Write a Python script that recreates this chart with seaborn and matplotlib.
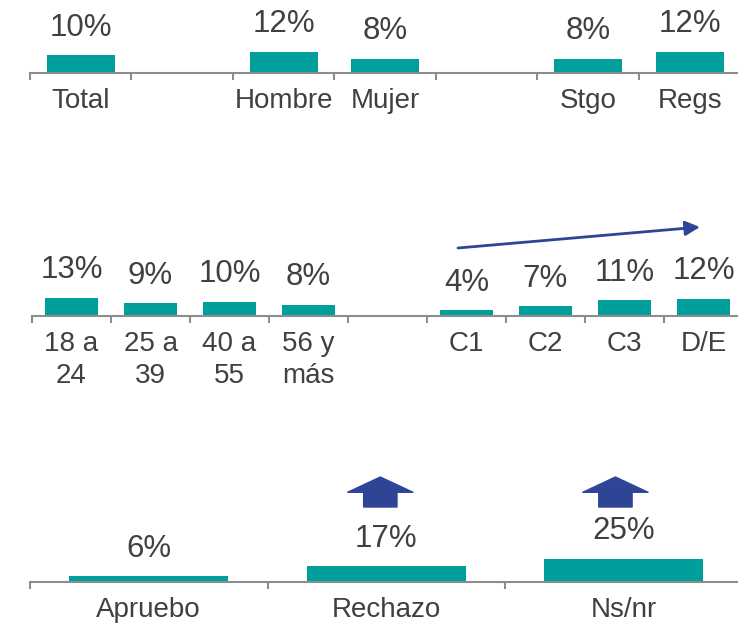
import matplotlib
matplotlib.use('Agg')
import matplotlib.pyplot as plt
import seaborn as sns
from matplotlib.ticker import FixedLocator

# datos de cada fila (slots vacíos como "_b")
orden_1 = ["Total", "_b1", "Hombre", "Mujer", "_b2", "Stgo", "Regs"]
cats_1 = ["Total", "Hombre", "Mujer", "Stgo", "Regs"]
vals_1 = [10, 12, 8, 8, 12]

orden_2 = ["18 a\n24", "25 a\n39", "40 a\n55", "56 y\nmás", "_b1", "C1", "C2", "C3", "D/E"]
cats_2 = ["18 a\n24", "25 a\n39", "40 a\n55", "56 y\nmás", "C1", "C2", "C3", "D/E"]
vals_2 = [13, 9, 10, 8, 4, 7, 11, 12]

orden_3 = ["Apruebo", "Rechazo", "Ns/nr"]
cats_3 = ["Apruebo", "Rechazo", "Ns/nr"]
vals_3 = [6, 17, 25]

VERDE = "#009F9B"
AZUL = "#2E4596"
GRIS_TXT = "#404040"
GRIS_EJE = "#8C8C8C"

sns.set_style("white")
plt.rcParams['font.family'] = ['Liberation Sans', 'DejaVu Sans']

W, H = 738, 623
fig = plt.figure(figsize=(W / 100, H / 100), dpi=100)


def fila(orden, cats, vals, x0, paso, y_eje, px_por_pct):
    # crea un eje en coordenadas de pixel
    n = len(orden)
    alto = 60
    ax = fig.add_axes([x0 / W, (H - y_eje) / H, n * paso / W, alto / H])
    sns.barplot(x=cats, y=vals, order=orden, color=VERDE, width=0.67,
                saturation=1, ax=ax, edgecolor="none")
    ax.set_xlim(-0.5, n - 0.5)
    ax.set_ylim(0, alto / px_por_pct)
    for c in ax.containers:
        ax.bar_label(c, fmt='%g%%', padding=9, fontsize=22.5, color=GRIS_TXT)
    ax.set_xticks(range(n))
    ax.set_xticklabels(["" if o.startswith("_b") else o for o in orden],
                       fontsize=20, color=GRIS_TXT, linespacing=1.3)
    ax.xaxis.set_minor_locator(FixedLocator([i - 0.5 for i in range(n + 1)]))
    ax.tick_params(axis='x', which='major', length=0, pad=11)
    ax.tick_params(axis='x', which='minor', length=5, width=1.5,
                   color=GRIS_EJE, direction='out', bottom=True)
    ax.set_yticks([])
    ax.set_xlabel("")
    ax.set_ylabel("")
    for s in ["left", "right", "top"]:
        ax.spines[s].set_visible(False)
    ax.spines["bottom"].set_color(GRIS_EJE)
    ax.spines["bottom"].set_linewidth(1.5)
    ax.patch.set_alpha(0)
    return ax


ax1 = fila(orden_1, cats_1, vals_1, 30, 101.5, 73, 1.77)
ax2 = fila(orden_2, cats_2, vals_2, 32, 79, 316, 1.42)
ax3 = fila(orden_3, cats_3, vals_3, 30, 237.5, 582, 0.93)

# flecha de tendencia en la fila de GSE
fig.patches.append(matplotlib.patches.FancyArrowPatch(
    (458 / W, 1 - 248 / H), (700 / W, 1 - 227 / H),
    transform=fig.transFigure, arrowstyle='-|>', mutation_scale=22,
    color=AZUL, lw=2, shrinkA=0, shrinkB=0))

# flechas de bloque sobre Rechazo y Ns/nr
for xpos in [0.975, 1.965]:
    ax3.annotate("", xy=(xpos, H - 477), xytext=(xpos, H - 507),
                 xycoords=('data', 'figure pixels'),
                 textcoords=('data', 'figure pixels'),
                 arrowprops=dict(arrowstyle='simple,head_length=11,head_width=47,tail_width=24',
                                 mutation_scale=1, color=AZUL, shrinkA=0, shrinkB=0))

fig.savefig("out.png", dpi=100)
